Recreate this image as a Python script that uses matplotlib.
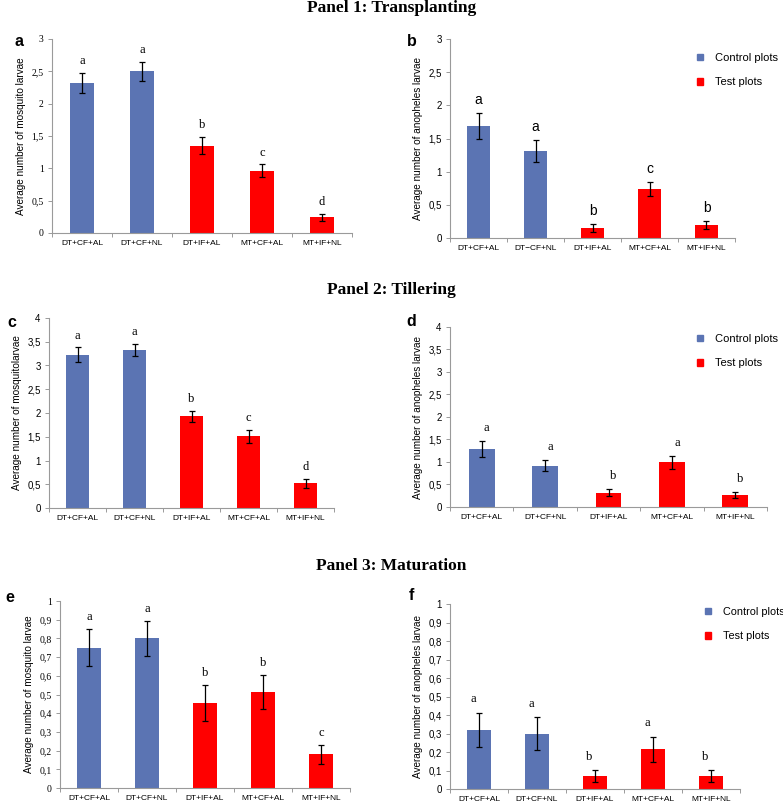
import numpy as np
import matplotlib
matplotlib.use("Agg")
import matplotlib.pyplot as plt
from matplotlib.patches import Patch
from matplotlib.ticker import FuncFormatter, FixedLocator

# ---- data ----
groups = ["DT+CF+AL", "DT+CF+NL", "DT+IF+AL", "MT+CF+AL", "MT+IF+NL"]
groups_b = ["DT+CF+AL", "DT\u2212CF+NL", "DT+IF+AL", "MT+CF+AL", "MT+IF+NL"]
is_control = [True, True, False, False, False]

a_mean = [2.32, 2.50, 1.35, 0.96, 0.24]
a_err = [0.15, 0.15, 0.13, 0.10, 0.055]
a_sig = ["a", "a", "b", "c", "d"]

b_mean = [1.69, 1.31, 0.15, 0.74, 0.19]
b_err = [0.20, 0.17, 0.055, 0.11, 0.06]
b_sig = ["a", "a", "b", "c", "b"]

c_mean = [3.23, 3.33, 1.93, 1.51, 0.52]
c_err = [0.15, 0.13, 0.12, 0.14, 0.10]
c_sig = ["a", "a", "b", "c", "d"]

d_mean = [1.28, 0.92, 0.32, 0.99, 0.27]
d_err = [0.18, 0.13, 0.08, 0.14, 0.07]
d_sig = ["a", "a", "b", "a", "b"]

e_mean = [0.75, 0.80, 0.455, 0.515, 0.18]
e_err = [0.10, 0.093, 0.097, 0.09, 0.05]
e_sig = ["a", "a", "b", "b", "c"]

f_mean = [0.32, 0.30, 0.07, 0.215, 0.07]
f_err = [0.093, 0.088, 0.033, 0.068, 0.033]
f_sig = ["a", "a", "b", "a", "b"]

BLUE = "#5b74b3"
RED = "#ff0000"
AXC = "#9a9a9a"
SERIF = "Liberation Serif"
SANS = "Liberation Sans"

W, H = 783, 805
fig = plt.figure(figsize=(W / 100, H / 100), dpi=100)


def px_axes(left, right, top, bottom):
    return fig.add_axes([left / W, 1 - bottom / H, (right - left) / W, (bottom - top) / H])


def comma(v, _):
    return f"{v:g}".replace(".", ",")


def panel(box, labels, mean, err, sig, ymax, ystep, ylabel, tickfont, sigfont,
          width=0.4, sig_gap=0.03, sig_dx=0.0, sig_size=9):
    ax = px_axes(*box)
    x = np.arange(len(mean))
    colors = [BLUE if c else RED for c in is_control]
    ax.bar(x, mean, width=width, color=colors, edgecolor="none", zorder=2)
    ax.errorbar(x, mean, yerr=err, fmt="none", ecolor="black", elinewidth=0.9,
                capsize=2.5, capthick=0.9, zorder=3)
    for xi, m, e, s in zip(x, mean, err, sig):
        ax.text(xi + sig_dx, m + e + sig_gap * ymax, s, ha="center", va="bottom",
                fontsize=sig_size, family=sigfont)
    ax.set_xlim(-0.5, len(mean) - 0.5)
    ax.set_ylim(0, ymax)
    ax.set_yticks(np.arange(0, ymax + ystep / 2, ystep))
    ax.yaxis.set_major_formatter(FuncFormatter(comma))
    ax.set_xticks(x)
    ax.set_xticklabels(labels, fontsize=6, family=SANS)
    ax.xaxis.set_minor_locator(FixedLocator(np.arange(-0.5, len(mean), 1.0)))
    ax.tick_params(axis="x", which="major", length=0, pad=5)
    ax.tick_params(axis="x", which="minor", length=3, color=AXC, width=0.7)
    ax.tick_params(axis="y", length=3, color=AXC, width=0.7, labelsize=7, pad=3)
    for t in ax.get_yticklabels():
        t.set_family(tickfont)
    for sp in ["top", "right"]:
        ax.spines[sp].set_visible(False)
    for sp in ["left", "bottom"]:
        ax.spines[sp].set_color(AXC)
        ax.spines[sp].set_linewidth(0.8)
    ax.set_ylabel(ylabel, fontsize=7.2, family=SANS, labelpad=4)
    return ax


def legend(ax, xpx, ypx, size=8):
    handles = [Patch(color=BLUE, label="Control plots"), Patch(color=RED, label="Test plots")]
    ax.legend(handles=handles, loc="upper left", bbox_to_anchor=(xpx / W, 1 - ypx / H),
              bbox_transform=fig.transFigure, frameon=False, handlelength=0.55,
              handleheight=0.55, handletextpad=1.1, labelspacing=1.3,
              prop={"family": SANS, "size": size}, borderpad=0, borderaxespad=0)


lab_mos = "Average number of mosquito larvae"
lab_ano = "Average number of anopheles larvae"

ax_a = panel((52, 352, 39, 233), groups, a_mean, a_err, a_sig, 3, 0.5, lab_mos,
             SERIF, SERIF, width=0.39)
ax_b = panel((450, 735, 39, 238), groups_b, b_mean, b_err, b_sig, 3, 0.5, lab_ano,
             SANS, SANS, width=0.39, sig_size=10)
ax_c = panel((49, 334, 318, 508), groups, c_mean, c_err, c_sig, 4, 0.5, "Average number of mosquitolarvae",
             SANS, SERIF)
ax_d = panel((450, 767, 327, 507), groups, d_mean, d_err, d_sig, 4, 0.5, lab_ano,
             SANS, SERIF, width=0.41, sig_gap=0.04, sig_dx=0.08)
ax_e = panel((60, 350, 601, 788), groups, e_mean, e_err, e_sig, 1, 0.1, lab_mos,
             SERIF, SERIF)
ax_f = panel((450, 740, 604, 789), groups, f_mean, f_err, f_sig, 1, 0.1, lab_ano,
             SANS, SERIF, sig_dx=-0.1, sig_gap=0.04)

legend(ax_b, 697, 53)
legend(ax_d, 697, 334)
legend(ax_f, 705, 607, size=7.8)

for txt, y in [("Panel 1: Transplanting", 8), ("Panel 2: Tillering", 290), ("Panel 3: Maturation", 566)]:
    fig.text(0.5, 1 - y / H, txt, ha="center", va="center", fontsize=12.5,
             fontweight="bold", family=SERIF)

for letter, xp, yp in [("a", 19, 41), ("b", 412, 41), ("c", 12, 322),
                       ("d", 411, 321), ("e", 10, 597), ("f", 411, 595)]:
    fig.text(xp / W, 1 - yp / H, letter, ha="center", va="center", fontsize=11.5,
             fontweight="bold", family=SANS)

fig.savefig("out.png", dpi=100)
